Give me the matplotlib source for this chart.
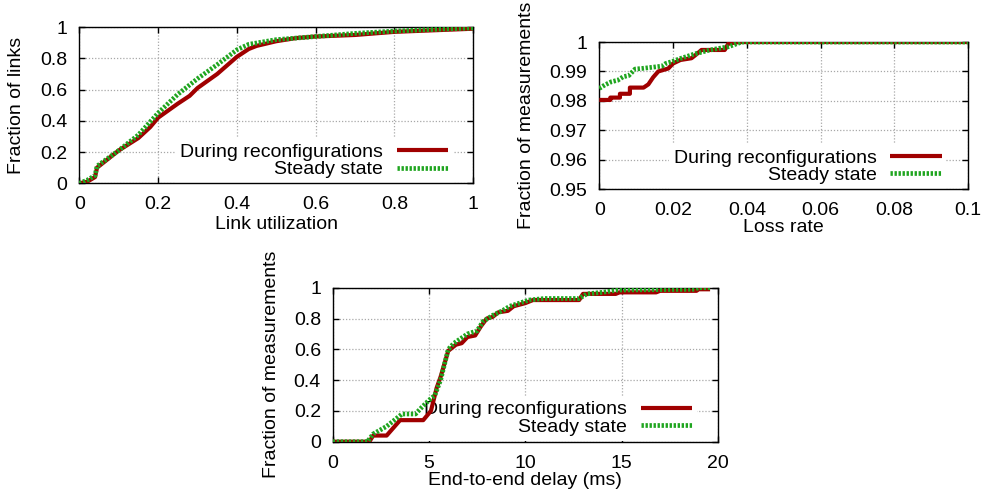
import matplotlib
matplotlib.use("Agg")
import matplotlib.pyplot as plt
from matplotlib.ticker import FormatStrFormatter

plt.rcParams.update({
    'font.family': ['Liberation Sans', 'DejaVu Sans'],
    'font.size': 14,
    'axes.linewidth': 1.0,
})

RED = '#a00000'
GREEN = '#1fa51f'
LABELS = ["During reconfigurations", "Steady state"]

# link utilization CDF
util_recfg_x = [0, 0.02, 0.04, 0.045, 0.1, 0.15, 0.18, 0.2, 0.25, 0.28, 0.3, 0.35,
                0.4, 0.43, 0.45, 0.5, 0.55, 0.6, 0.7, 0.8, 0.9, 1.0]
util_recfg_y = [0, 0.01, 0.04, 0.1, 0.21, 0.29, 0.36, 0.42, 0.51, 0.56, 0.61, 0.70,
                0.81, 0.86, 0.88, 0.91, 0.93, 0.94, 0.95, 0.97, 0.98, 0.99]
util_steady_x = [0, 0.02, 0.04, 0.045, 0.1, 0.15, 0.2, 0.25, 0.3, 0.35, 0.4, 0.43,
                 0.5, 0.6, 0.7, 0.8, 0.9, 1.0]
util_steady_y = [0, 0.02, 0.05, 0.11, 0.21, 0.31, 0.45, 0.57, 0.67, 0.76, 0.855, 0.89,
                 0.92, 0.94, 0.96, 0.975, 0.985, 0.995]

# loss rate CDF
loss_recfg_x = [0, 0.003, 0.003, 0.0056, 0.0056, 0.0083, 0.0083, 0.012, 0.0133, 0.0146,
                0.016, 0.0187, 0.02, 0.022, 0.025, 0.0265, 0.0277, 0.034, 0.035, 0.038, 0.1]
loss_recfg_y = [0.9803, 0.9803, 0.9811, 0.9811, 0.9824, 0.9824, 0.9845, 0.9845, 0.9856, 0.988,
                0.990, 0.991, 0.9927, 0.9939, 0.9945, 0.996, 0.9973, 0.9973, 0.9995, 1.0, 1.0]
loss_steady_x = [0, 0.0015, 0.0033, 0.005, 0.0065, 0.008, 0.0097, 0.0115, 0.017, 0.018,
                 0.0196, 0.022, 0.026, 0.03, 0.035, 0.0386, 0.1]
loss_steady_y = [0.9842, 0.9854, 0.9865, 0.987, 0.9882, 0.9886, 0.9908, 0.991, 0.9918, 0.9927,
                 0.9933, 0.9944, 0.996, 0.9973, 0.9984, 1.0, 1.0]

# end-to-end delay CDF
delay_recfg_x = [0, 1.9, 2.1, 2.8, 3.5, 4.7, 5.1, 5.4, 5.6, 6.0, 6.4, 6.7, 7.0, 7.4, 7.7, 8.0,
                 8.3, 8.6, 9.1, 9.4, 10.0, 10.4, 12.8, 13.0, 14.7, 14.9, 16.8, 17.0, 18.9, 19.0, 19.6]
delay_recfg_y = [0, 0, 0.04, 0.04, 0.14, 0.14, 0.2, 0.35, 0.42, 0.59, 0.63, 0.64, 0.68, 0.69, 0.75,
                 0.8, 0.81, 0.84, 0.85, 0.88, 0.9, 0.92, 0.92, 0.96, 0.96, 0.97, 0.97, 0.98, 0.98,
                 0.99, 0.99]
delay_steady_x = [0, 1.8, 2.1, 2.8, 3.3, 3.6, 4.3, 4.6, 5.0, 5.3, 5.6, 5.8, 6.0, 6.3, 7.0, 7.5,
                  7.8, 8.3, 8.8, 9.2, 9.7, 10.2, 11.0, 12.8, 13.2, 14.0, 14.8, 18.8, 19.0, 19.6]
delay_steady_y = [0, 0, 0.05, 0.1, 0.15, 0.18, 0.18, 0.22, 0.27, 0.3, 0.4, 0.5, 0.6, 0.64, 0.7,
                  0.72, 0.78, 0.82, 0.85, 0.88, 0.9, 0.92, 0.93, 0.93, 0.96, 0.97, 0.985, 0.99,
                  1.0, 1.0]


def draw_panel(ax, xr, yr, xs, ys, xlim, ylim, xticks, yticks, xlabel, ylabel,
               ylab_x, xlab_y, fmt_x='%g', fmt_y='%g', anchor=(0.95, 0.0)):
    ax.plot(xr, yr, color=RED, lw=3.0, solid_capstyle='butt', label=LABELS[0], zorder=3)
    ax.plot(xs, ys, color=GREEN, lw=3.4, linestyle=(0, (0.5, 0.35)),
            label=LABELS[1], zorder=3)
    ax.set_xlim(*xlim); ax.set_ylim(*ylim)
    ax.set_xticks(xticks); ax.set_yticks(yticks)
    ax.xaxis.set_major_formatter(FormatStrFormatter(fmt_x))
    ax.yaxis.set_major_formatter(FormatStrFormatter(fmt_y))
    ax.grid(True, color='#a8a8a8', linestyle=(0, (1, 1.5)), lw=0.9)
    ax.set_axisbelow(True)
    ax.tick_params(direction='in', length=4, width=1, top=True, right=True,
                   labelsize=14, color='black')
    ax.tick_params(axis='y', pad=8.5)
    ax.tick_params(axis='x', pad=9.5)
    ax.set_xlabel(xlabel)
    ax.set_ylabel(ylabel)
    ax.xaxis.set_label_coords(0.5, xlab_y)
    ax.xaxis.label.set_va('center')
    ax.yaxis.set_label_coords(ylab_x, 0.5)
    ax.yaxis.label.set_va('center')
    leg = ax.legend(loc='lower right', bbox_to_anchor=anchor, markerfirst=False,
                    frameon=True, fancybox=False, edgecolor='none', facecolor='white',
                    framealpha=1.0, borderpad=0.25, labelspacing=0.0,
                    handlelength=2.65, handletextpad=0.7, borderaxespad=0.0,
                    fontsize=14)
    leg.set_zorder(2)
    return leg


fig = plt.figure(figsize=(9.85, 4.91), dpi=100)

ax1 = fig.add_axes([0.0805, 0.6267, 0.400, 0.318])
draw_panel(ax1, util_recfg_x, util_recfg_y, util_steady_x, util_steady_y,
           (0, 1), (0, 1), [0, 0.2, 0.4, 0.6, 0.8, 1], [0, 0.2, 0.4, 0.6, 0.8, 1],
           "Link utilization", "Fraction of links", -0.159, -0.267,
           anchor=(0.949, 0.0))

ax2 = fig.add_axes([0.6084, 0.615, 0.3746, 0.2994])
draw_panel(ax2, loss_recfg_x, loss_recfg_y, loss_steady_x, loss_steady_y,
           (0, 0.1), (0.95, 1.0), [0, 0.02, 0.04, 0.06, 0.08, 0.1],
           [0.95, 0.96, 0.97, 0.98, 0.99, 1.0],
           "Loss rate", "Fraction of measurements", -0.197, -0.265,
           anchor=(0.941, 0.0))

ax3 = fig.add_axes([0.3378, 0.1004, 0.3909, 0.3136])
draw_panel(ax3, delay_recfg_x, delay_recfg_y, delay_steady_x, delay_steady_y,
           (0, 20), (0, 1), [0, 5, 10, 15, 20], [0, 0.2, 0.4, 0.6, 0.8, 1],
           "End-to-end delay (ms)", "Fraction of measurements", -0.158, -0.249,
           anchor=(0.946, 0.005))

fig.savefig("out.png", dpi=100)
